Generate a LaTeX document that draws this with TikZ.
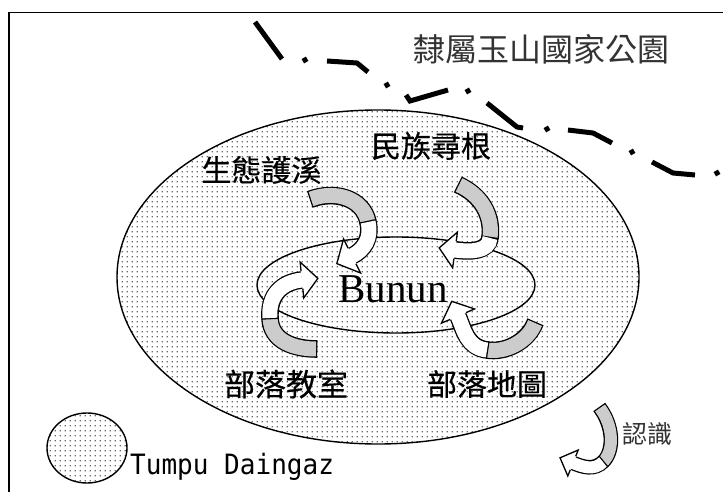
\documentclass[tikz,border=0pt]{standalone}
\usepackage{fontspec}
\setmainfont{Liberation Serif}
\newfontfamily\cjk{Noto Sans CJK TC}
\newfontfamily\cjkb{Noto Sans CJK TC}[FakeBold=0.45]
\newfontfamily\monof{DejaVu Sans Mono}
\usetikzlibrary{patterns.meta,decorations.markings}
\definecolor{ribgray}{RGB}{204,204,204}
\definecolor{dotgray}{RGB}{105,105,105}
\tikzdeclarepattern{name=halftone, type=uncolored,
  bottom left={(0pt,0pt)}, top right={(4.8pt,4.8pt)},
  tile size={(4.8pt,4.8pt)},
  code={\fill (1.7pt,1.7pt) rectangle (3.0pt,3.0pt);}}
% #1 band width, #2 outline width, #3 head half width, #4 head length, #5 half outline width
% #6 gray path, #7 white path
\newcommand\ribarrow[7]{%
  \draw[line width=#2pt, black, shorten <=-1.3pt] #6;
  \draw[line width=#1pt, ribgray] #6;
  \draw[line width=#2pt, black, shorten <=-1.3pt] #7;
  \draw[line width=#1pt, white] #7;
  \path[postaction={decorate, decoration={markings,
     mark=at position 0.999 with {%
       \fill[white] (-0.3pt,-#3pt) -- (#4pt,0pt) -- (-0.3pt,#3pt) -- cycle;
       \draw[black, line width=1.3pt, line join=miter] (0pt,#5pt) -- (0pt,#3pt) -- (#4pt,0pt) -- (0pt,-#3pt) -- (0pt,-#5pt);}}}] #7;
}
\newcommand\bdot[2]{\fill[rotate around={30:(#1,#2)}] (#1-2.5,#2-2.5) rectangle (#1+2.5,#2+2.5);}
\tikzset{
  lab/.style={inner sep=0pt, font=\cjkb\fontsize{30}{34}\selectfont},
  outline/.style={line width=1.4pt},
  bound/.style={line width=5pt, line join=miter},
}
\begin{document}
\begin{tikzpicture}[x=1pt,y=-1pt]
\useasboundingbox (0,0) rectangle (723,492);
% frame
\draw[line width=1.5pt] (9,12.5) rectangle (760,520);
% park boundary (dash-dot)
\draw[bound] (255,22) -- (282,59);
\bdot{305}{60}
\draw[bound] (327,61) -- (357,63) -- (368,72);
\bdot{387}{85}
\draw[bound] (406,95) -- (410,101) -- (448,90);
\bdot{468}{91}
\draw[bound] (487,103) -- (517,127) -- (523,128);
\bdot{547}{129}
\draw[bound] (568,130) -- (593,133) -- (612,143);
\bdot{632}{152}
\draw[bound] (652,162) -- (673,173) -- (695,175);
\bdot{717}{173}
\node[inner sep=0pt, text=black!80, font=\cjk\fontsize{32}{36}\selectfont] (title) at (541,49) {隸屬玉山國家公園};
% territory
\draw[outline, pattern=halftone, pattern color=dotgray] (378,277) ellipse [x radius=261, y radius=167];
\draw[outline] (396,285) ellipse [x radius=139, y radius=48];
\node[inner sep=0pt, anchor=base, font=\fontsize{41}{44}\selectfont] (bunun) at (393,302) {Bunun};
% arrows
\ribarrow{15}{17.6}{19}{17}{8.8}
  {(311,199) .. controls (335,190) and (363,198) .. (368,222)}
  {(368,222) .. controls (372,238) and (364,250) .. (352,256)}
\ribarrow{15}{17.6}{18}{16}{8.8}
  {(459,185) .. controls (481,195) and (493,215) .. (490,238)}
  {(490,238) .. controls (489,252) and (470,252) .. (455,250)}
\ribarrow{15}{17.6}{18}{16}{8.8}
  {(316,349) .. controls (295,349) and (271,342) .. (270,318)}
  {(270,318) .. controls (268,295) and (282,282) .. (302,280)}
\ribarrow{15}{17.6}{18}{16}{8.8}
  {(535,323) .. controls (528,342) and (505,353) .. (487,350)}
  {(487,350) .. controls (467,348) and (464,330) .. (458,316)}
% labels
\node[lab] (eco) at (261.5,170) {生態護溪};
\node[lab] (root) at (431,146) {民族尋根};
\node[lab, font=\cjkb\fontsize{31}{34}\selectfont] (class) at (286,384) {部落教室};
\node[lab] (map) at (487,384) {部落地圖};
% legend
\draw[outline, pattern=halftone, pattern color=dotgray] (87,448) ellipse [x radius=40, y radius=35];
\node[inner sep=0pt, anchor=base west, font=\monof\fontsize{28}{30}\selectfont, xscale=0.93] (tumpu) at (130,474) {Tumpu Daingaz};
\ribarrow{12}{14.6}{14}{14}{7.3}
  {(600,408) .. controls (613,425) and (615,450) .. (603,462)}
  {(603,462) .. controls (594,471) and (583,467) .. (573,463)}
\node[inner sep=0pt, text=black!80, font=\cjk\fontsize{25}{28}\selectfont] (know) at (647,434) {認識};
\end{tikzpicture}
\end{document}
